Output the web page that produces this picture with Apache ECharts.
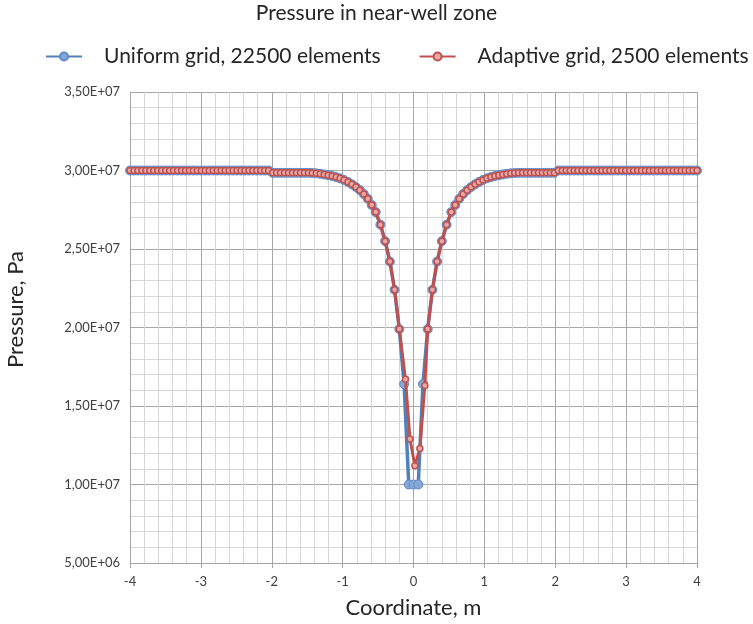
<!DOCTYPE html>
<html>
<head>
<meta charset="utf-8">
<script src="https://cdn.jsdelivr.net/npm/echarts@6/dist/echarts.min.js"></script>
<style>
  html, body { margin: 0; padding: 0; background: #fff; }
  #chart { width: 753px; height: 624px; }
</style>
</head>
<body>
<div id="chart"></div>
<script>
(function () {
  'use strict';

  // uniform grid, x positions (m)
  var uniformX = [
    -4, -3.944, -3.889, -3.833, -3.777, -3.721, -3.665, -3.609, -3.553, -3.497, -3.441, -3.385,
    -3.329, -3.273, -3.217, -3.162, -3.106, -3.05, -2.994, -2.938, -2.882, -2.826, -2.77, -2.714,
    -2.658, -2.602, -2.546, -2.49, -2.434, -2.378, -2.322, -2.267, -2.211, -2.155, -2.099, -2.043,
    -1.987, -1.931, -1.875, -1.819, -1.763, -1.707, -1.651, -1.595, -1.539, -1.483,
    -1.428, -1.372, -1.316, -1.26, -1.204, -1.148, -1.092, -1.036, -0.98, -0.924, -0.869, -0.813,
    -0.757, -0.701, -0.645, -0.589,
    -0.533, -0.467, -0.4, -0.333, -0.267, -0.2, -0.133, -0.067,
    0,
    0.067, 0.133, 0.2, 0.267, 0.333, 0.4, 0.467, 0.533,
    0.589, 0.645, 0.701, 0.757, 0.813, 0.869, 0.924, 0.98, 1.036, 1.092, 1.148, 1.204,
    1.26, 1.316, 1.372, 1.428,
    1.483, 1.539, 1.595, 1.651, 1.707, 1.763, 1.819, 1.875, 1.931, 1.987,
    2.043, 2.099, 2.155, 2.211, 2.267, 2.322, 2.378, 2.434, 2.49, 2.546, 2.602, 2.658,
    2.714, 2.77, 2.826, 2.882, 2.938, 2.994, 3.05, 3.106, 3.162, 3.217, 3.273, 3.329,
    3.385, 3.441, 3.497, 3.553, 3.609, 3.665, 3.721, 3.777, 3.833, 3.889, 3.944, 4
  ];
  // uniform grid, pressure (Pa)
  var uniformP = [
    3.0e7, 3.0e7, 3.0e7, 3.0e7, 3.0e7, 3.0e7, 3.0e7, 3.0e7, 3.0e7, 3.0e7, 3.0e7, 3.0e7,
    3.0e7, 3.0e7, 3.0e7, 3.0e7, 3.0e7, 3.0e7, 3.0e7, 3.0e7, 3.0e7, 3.0e7, 3.0e7, 3.0e7,
    3.0e7, 3.0e7, 3.0e7, 3.0e7, 3.0e7, 3.0e7, 3.0e7, 3.0e7, 3.0e7, 3.0e7, 3.0e7, 3.0e7,
    2.985e7, 2.985e7, 2.985e7, 2.985e7, 2.985e7, 2.985e7, 2.985e7, 2.985e7, 2.985e7, 2.985e7,
    2.984e7, 2.982e7, 2.979e7, 2.975e7, 2.97e7, 2.965e7, 2.958e7, 2.95e7, 2.94e7, 2.927e7, 2.912e7, 2.895e7,
    2.875e7, 2.85e7, 2.82e7, 2.78e7,
    2.735e7, 2.655e7, 2.55e7, 2.42e7, 2.24e7, 1.99e7, 1.64e7, 1.0e7,
    1.0e7,
    1.0e7, 1.64e7, 1.99e7, 2.24e7, 2.42e7, 2.55e7, 2.655e7, 2.735e7,
    2.78e7, 2.82e7, 2.85e7, 2.875e7, 2.895e7, 2.912e7, 2.927e7, 2.94e7, 2.95e7, 2.958e7, 2.965e7, 2.97e7,
    2.975e7, 2.979e7, 2.982e7, 2.984e7,
    2.985e7, 2.985e7, 2.985e7, 2.985e7, 2.985e7, 2.985e7, 2.985e7, 2.985e7, 2.985e7, 2.985e7,
    3.0e7, 3.0e7, 3.0e7, 3.0e7, 3.0e7, 3.0e7, 3.0e7, 3.0e7, 3.0e7, 3.0e7, 3.0e7, 3.0e7,
    3.0e7, 3.0e7, 3.0e7, 3.0e7, 3.0e7, 3.0e7, 3.0e7, 3.0e7, 3.0e7, 3.0e7, 3.0e7, 3.0e7,
    3.0e7, 3.0e7, 3.0e7, 3.0e7, 3.0e7, 3.0e7, 3.0e7, 3.0e7, 3.0e7, 3.0e7, 3.0e7, 3.0e7
  ];
  // adaptive grid, x positions (m)
  var adaptiveX = [
    -4, -3.944, -3.889, -3.833, -3.777, -3.721, -3.665, -3.609, -3.553, -3.497, -3.441, -3.385,
    -3.329, -3.273, -3.217, -3.162, -3.106, -3.05, -2.994, -2.938, -2.882, -2.826, -2.77, -2.714,
    -2.658, -2.602, -2.546, -2.49, -2.434, -2.378, -2.322, -2.267, -2.211, -2.155, -2.099, -2.043,
    -1.987, -1.931, -1.875, -1.819, -1.763, -1.707, -1.651, -1.595, -1.539, -1.483,
    -1.428, -1.372, -1.316, -1.26, -1.204, -1.148, -1.092, -1.036, -0.98, -0.924, -0.869, -0.813,
    -0.757, -0.701, -0.645, -0.589,
    -0.533, -0.467, -0.4, -0.333, -0.267, -0.2, -0.113, -0.05,
    0.02,
    0.09, 0.16, 0.2, 0.267, 0.333, 0.4, 0.467, 0.533,
    0.589, 0.645, 0.701, 0.757, 0.813, 0.869, 0.924, 0.98, 1.036, 1.092, 1.148, 1.204,
    1.26, 1.316, 1.372, 1.428,
    1.483, 1.539, 1.595, 1.651, 1.707, 1.763, 1.819, 1.875, 1.931, 1.987,
    2.043, 2.099, 2.155, 2.211, 2.267, 2.322, 2.378, 2.434, 2.49, 2.546, 2.602, 2.658,
    2.714, 2.77, 2.826, 2.882, 2.938, 2.994, 3.05, 3.106, 3.162, 3.217, 3.273, 3.329,
    3.385, 3.441, 3.497, 3.553, 3.609, 3.665, 3.721, 3.777, 3.833, 3.889, 3.944, 4
  ];
  // adaptive grid, pressure (Pa)
  var adaptiveP = [
    3.0e7, 3.0e7, 3.0e7, 3.0e7, 3.0e7, 3.0e7, 3.0e7, 3.0e7, 3.0e7, 3.0e7, 3.0e7, 3.0e7,
    3.0e7, 3.0e7, 3.0e7, 3.0e7, 3.0e7, 3.0e7, 3.0e7, 3.0e7, 3.0e7, 3.0e7, 3.0e7, 3.0e7,
    3.0e7, 3.0e7, 3.0e7, 3.0e7, 3.0e7, 3.0e7, 3.0e7, 3.0e7, 3.0e7, 3.0e7, 3.0e7, 3.0e7,
    2.985e7, 2.985e7, 2.985e7, 2.985e7, 2.985e7, 2.985e7, 2.985e7, 2.985e7, 2.985e7, 2.985e7,
    2.984e7, 2.982e7, 2.979e7, 2.975e7, 2.97e7, 2.965e7, 2.958e7, 2.95e7, 2.94e7, 2.927e7, 2.912e7, 2.895e7,
    2.875e7, 2.85e7, 2.82e7, 2.78e7,
    2.735e7, 2.655e7, 2.55e7, 2.42e7, 2.24e7, 1.99e7, 1.67e7, 1.29e7,
    1.12e7,
    1.23e7, 1.63e7, 1.99e7, 2.24e7, 2.42e7, 2.55e7, 2.655e7, 2.735e7,
    2.78e7, 2.82e7, 2.85e7, 2.875e7, 2.895e7, 2.912e7, 2.927e7, 2.94e7, 2.95e7, 2.958e7, 2.965e7, 2.97e7,
    2.975e7, 2.979e7, 2.982e7, 2.984e7,
    2.985e7, 2.985e7, 2.985e7, 2.985e7, 2.985e7, 2.985e7, 2.985e7, 2.985e7, 2.985e7, 2.985e7,
    3.0e7, 3.0e7, 3.0e7, 3.0e7, 3.0e7, 3.0e7, 3.0e7, 3.0e7, 3.0e7, 3.0e7, 3.0e7, 3.0e7,
    3.0e7, 3.0e7, 3.0e7, 3.0e7, 3.0e7, 3.0e7, 3.0e7, 3.0e7, 3.0e7, 3.0e7, 3.0e7, 3.0e7,
    3.0e7, 3.0e7, 3.0e7, 3.0e7, 3.0e7, 3.0e7, 3.0e7, 3.0e7, 3.0e7, 3.0e7, 3.0e7, 3.0e7
  ];

  var FONT = 'Lato';

  function pairs(xs, ys) {
    var out = [];
    for (var i = 0; i < xs.length; i++) {
      out.push([xs[i], ys[i]]);
    }
    return out;
  }

  // 3,50E+07 style labels
  function sciLabel(v) {
    var e = Math.floor(Math.log10(v) + 1e-9);
    var m = v / Math.pow(10, e);
    return m.toFixed(2).replace('.', ',') + 'E+' + (e < 10 ? '0' : '') + e;
  }

  var myChart = echarts.init(document.getElementById('chart'));

  var option = {
    animation: false,
    textStyle: { fontFamily: FONT },
    title: {
      text: 'Pressure in near-well zone',
      left: 'center',
      top: -2,
      textStyle: { fontFamily: FONT, fontSize: 21, fontWeight: 'normal', color: '#262626' }
    },
    legend: {
      left: 45,
      top: 46,
      width: 708,
      padding: 0,
      itemWidth: 36,
      itemHeight: 10,
      itemGap: 38,
      textStyle: { fontFamily: FONT, fontSize: 21, color: '#262626', padding: [0, 0, 0, 17] },
      data: ['Uniform grid, 22500 elements', 'Adaptive grid, 2500 elements']
    },
    grid: { left: 130, right: 56, top: 92, bottom: 61, outerBoundsMode: 'none' },
    xAxis: {
      type: 'value',
      min: -4,
      max: 4,
      interval: 1,
      name: 'Coordinate, m',
      nameLocation: 'middle',
      nameGap: 34,
      nameTextStyle: { fontFamily: FONT, fontSize: 22, color: '#262626' },
      axisLine: { onZero: false, lineStyle: { color: '#a6a6a6' } },
      axisTick: { show: true, length: 5, lineStyle: { color: '#a6a6a6' } },
      axisLabel: { fontFamily: FONT, fontSize: 13, color: '#404040', margin: 12 },
      splitLine: { show: true, lineStyle: { color: '#a6a6a6', width: 1 } },
      minorTick: { show: false, splitNumber: 5 },
      minorSplitLine: { show: true, lineStyle: { color: '#d6d6d6', width: 1 } }
    },
    yAxis: {
      type: 'value',
      min: 5e6,
      max: 3.5e7,
      interval: 5e6,
      name: 'Pressure, Pa',
      nameLocation: 'middle',
      nameGap: 103,
      nameRotate: 90,
      nameTextStyle: { fontFamily: FONT, fontSize: 22, color: '#262626', padding: [0, 0, 0, 36] },
      axisLine: { show: true, lineStyle: { color: '#a6a6a6' } },
      axisTick: { show: true, length: 5, lineStyle: { color: '#a6a6a6' } },
      axisLabel: { fontFamily: FONT, fontSize: 13, color: '#404040', margin: 10, formatter: sciLabel },
      splitLine: { show: true, lineStyle: { color: '#a6a6a6', width: 1 } },
      minorTick: { show: false, splitNumber: 5 },
      minorSplitLine: { show: true, lineStyle: { color: '#d6d6d6', width: 1 } }
    },
    series: [
      {
        name: 'Uniform grid, 22500 elements',
        type: 'line',
        data: pairs(uniformX, uniformP),
        symbol: 'circle',
        symbolSize: 9,
        showAllSymbol: true,
        z: 2,
        lineStyle: { color: '#4f81bd', width: 3.5 },
        itemStyle: { color: '#86a8d8', borderColor: '#5b8ac6', borderWidth: 1 }
      },
      {
        name: 'Adaptive grid, 2500 elements',
        type: 'line',
        data: pairs(adaptiveX, adaptiveP),
        symbol: 'circle',
        symbolSize: 6,
        showAllSymbol: true,
        z: 3,
        lineStyle: { color: '#c0504d', width: 3 },
        itemStyle: { color: '#e6a9a7', borderColor: '#c0504d', borderWidth: 1.5 }
      }
    ]
  };

  myChart.setOption(option);
  window.addEventListener('resize', function () {
    myChart.resize();
  });
})();
</script>
</body>
</html>
